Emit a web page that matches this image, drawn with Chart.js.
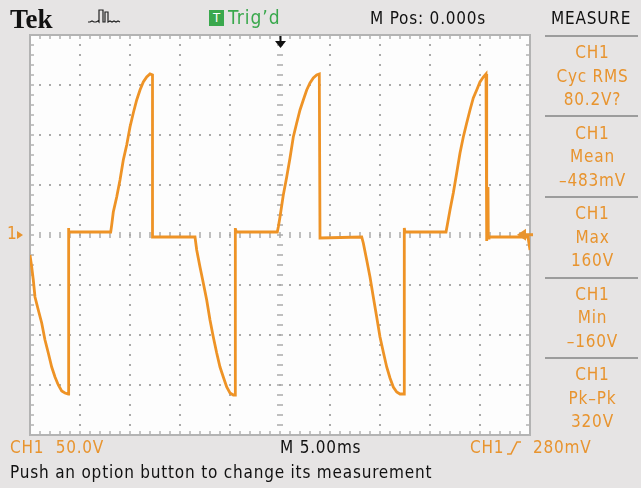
<!DOCTYPE html>
<html>
<head>
<meta charset="utf-8">
<script src="https://cdn.jsdelivr.net/npm/chart.js@4"></script>
<style>
  body { margin: 0; background: #e6e4e4; }
  #scope { position: relative; width: 641px; height: 488px; overflow: hidden; background: #e6e4e4; }
  #scope canvas { position: absolute; left: 0; top: 0; }
  .lbl { position: absolute; height: 22px; line-height: 22px; white-space: nowrap;
         font-family: "DejaVu Sans Condensed", "DejaVu Sans", sans-serif; font-stretch: condensed;
         font-size: 17px; letter-spacing: 0.8px; color: #111; }
  .orange { color: #e8942f; }
  .green { color: #39a84c; font-size: 19px; letter-spacing: 1px; }
  .tek { font-family: "Liberation Serif", "DejaVu Serif", serif; font-weight: bold; font-size: 27px; font-stretch: normal; letter-spacing: 0; }
  .menu { left: 545px; width: 95px; text-align: center; }
  .sep { position: absolute; left: 545px; width: 93px; height: 2px; background: #9c9c9c; }
  .tbox { position: absolute; left: 209px; top: 10px; width: 15px; height: 16px; background: #3aa84d;
          color: #fff; font: 13px "DejaVu Sans Condensed", "DejaVu Sans", sans-serif; line-height: 16px; text-align: center; }
</style>
</head>
<body>
<div id="scope">
  <canvas id="chart" width="641" height="488"></canvas>

  <div class="lbl tek" style="left:10px; top:8px;">Tek</div>
  <svg style="position:absolute; left:88px; top:7px;" width="34" height="17">
    <polyline points="0,15 2,15 4,14 6,15 8,15 10,14 11,15 11,3 15,3 15,15 17,15 17,5 20,5 20,15 22,14 24,15 26,14 28,15 30,14 32,15" fill="none" stroke="#222" stroke-width="1.2"/>
  </svg>
  <div class="tbox">T</div>
  <div class="lbl green" style="left:228px; top:6px;">Trig’d</div>
  <div class="lbl" style="left:370px; top:7px;">M Pos: 0.000s</div>
  <div class="lbl" style="left:551px; top:7px;">MEASURE</div>

  <div id="menu"></div>

  <div class="lbl orange" style="left:10px; top:436px;">CH1&nbsp;&nbsp;50.0V</div>
  <div class="lbl" style="left:280px; top:436px;">M 5.00ms</div>
  <div class="lbl orange" style="left:470px; top:436px;">CH1</div>
  <svg style="position:absolute; left:505px; top:440px;" width="18" height="16">
    <polyline points="2,14 6,14 12,2 16,2" fill="none" stroke="#e8942f" stroke-width="1.6"/>
  </svg>
  <div class="lbl orange" style="left:533px; top:436px;">280mV</div>
  <div class="lbl" style="left:10px; top:461px;">Push an option button to change its measurement</div>
</div>

<script>
// trace: time in ms, level in volts (5 ms/div, 50 V/div)
const timeMs = [
  -25, -24.83, -24.67, -24.5, -24.17, -23.83, -23.5, -23.17, -22.83, -22.5, -22.17, -21.83, -21.5, -21.17, -21.17, -21.1,
  -16.93, -16.83, -16.67, -16.33, -16.0, -15.67, -15.33, -15.0, -14.67, -14.33, -14.0, -13.67, -13.33, -13.0, -12.75, -12.75,
  -8.5, -8.33, -8.0, -7.67, -7.33, -7.0, -6.67, -6.33, -6.0, -5.67, -5.33, -5.0, -4.67, -4.5, -4.5, -4.47, -4.43, -4.35,
  -0.27, -0.17, 0, 0.33, 0.67, 1.0, 1.33, 1.67, 2.0, 2.33, 2.67, 3.0, 3.33, 3.67, 3.93, 4.0,
  8.17, 8.33, 8.67, 9.0, 9.33, 9.67, 10.0, 10.33, 10.67, 11.0, 11.33, 11.67, 12.0, 12.4, 12.43, 12.5,
  16.6, 16.73, 17.0, 17.33, 17.67, 18.0, 18.33, 18.67, 19.0, 19.33, 19.67, 20.0, 20.33, 20.6, 20.67, 20.8, 20.83, 20.9,
  24.8, 25
];
const volts = [
  -20, -32, -45, -62, -75, -88, -105, -118, -132, -142, -150, -156, -158, -159, 7, 3,
  3, 10, 23, 38, 55, 75, 90, 108, 122, 135, 145, 153, 158, 161, 160, -2,
  -2, -15, -32, -48, -65, -85, -102, -118, -132, -142, -152, -158, -160, -160, 7, -48, 6, 3,
  3, 8, 18, 40, 58, 77, 98, 112, 125, 135, 145, 152, 157, 160, 161, -3,
  -2, -8, -25, -42, -62, -82, -102, -117, -132, -143, -152, -157, -159, -159, 7, 3,
  3, 10, 25, 42, 62, 82, 98, 112, 125, 137, 145, 153, 158, 161, -6, 48, -3, -2,
  -2, -15
];

const measureNames = ["Cyc RMS", "Mean", "Max", "Min", "Pk\u2013Pk"];
const measureValues = ["80.2V?", "\u2013483mV", "160V", "\u2013160V", "320V"];
const triggerLevelV = 0.28;

const menu = document.getElementById("menu");
const sepY = [35, 115, 196, 277, 357];
sepY.forEach(y => {
  const d = document.createElement("div");
  d.className = "sep";
  d.style.top = y + "px";
  menu.appendChild(d);
});
measureNames.forEach((name, i) => {
  const top0 = 41 + i * 80.5;
  ["CH1", name, measureValues[i]].forEach((txt, j) => {
    const d = document.createElement("div");
    d.className = "lbl menu orange";
    d.style.top = (top0 + j * 23.5) + "px";
    d.textContent = txt;
    menu.appendChild(d);
  });
});

const graticule = {
  id: "graticule",
  beforeDatasetsDraw(chart) {
    const { ctx, chartArea: a, scales: { x, y } } = chart;
    ctx.save();
    ctx.fillStyle = "#fdfdfd";
    ctx.fillRect(a.left, a.top, a.width, a.height);

    // dotted divisions
    ctx.fillStyle = "#ababab";
    for (let t = -20; t <= 20; t += 5) {
      if (t === 0) continue;
      const px = x.getPixelForValue(t);
      for (let v = -190; v <= 190; v += 10) ctx.fillRect(px - 1, y.getPixelForValue(v) - 1, 2, 2);
    }
    for (let v = -150; v <= 150; v += 50) {
      if (v === 0) continue;
      const py = y.getPixelForValue(v);
      for (let t = -24; t <= 24; t++) ctx.fillRect(x.getPixelForValue(t) - 1, py - 1, 2, 2);
    }

    // centre cross with minor ticks
    const x0 = x.getPixelForValue(0), y0 = y.getPixelForValue(0);
    for (let t = -24; t <= 24; t++) {
      const px = x.getPixelForValue(t);
      ctx.fillRect(px - 0.75, y0 - 3, 1.5, 6);
    }
    for (let v = -190; v <= 190; v += 10) {
      const py = y.getPixelForValue(v);
      ctx.fillRect(x0 - 3, py - 0.75, 6, 1.5);
    }

    // border with inward ticks
    ctx.fillStyle = "#b3b3b3";
    for (let t = -24; t <= 24; t++) {
      const px = x.getPixelForValue(t);
      ctx.fillRect(px - 0.75, a.top, 1.5, 4);
      ctx.fillRect(px - 0.75, a.bottom - 4, 1.5, 4);
    }
    for (let v = -190; v <= 190; v += 10) {
      const py = y.getPixelForValue(v);
      ctx.fillRect(a.left, py - 0.75, 4, 1.5);
      ctx.fillRect(a.right - 4, py - 0.75, 4, 1.5);
    }
    ctx.strokeStyle = "#b3b3b3";
    ctx.lineWidth = 2;
    ctx.strokeRect(a.left, a.top, a.width, a.height);
    ctx.restore();
  },
  afterDatasetsDraw(chart) {
    const { ctx, chartArea: a, scales: { x, y } } = chart;
    const x0 = x.getPixelForValue(0), y0 = y.getPixelForValue(0);
    ctx.save();
    // trigger position marker
    ctx.fillStyle = "#111";
    ctx.fillRect(x0 - 0.5, a.top + 1, 2, 8);
    ctx.beginPath();
    ctx.moveTo(x0 - 5, a.top + 6);
    ctx.lineTo(x0 + 6, a.top + 6);
    ctx.lineTo(x0 + 0.5, a.top + 13);
    ctx.closePath();
    ctx.fill();

    // channel 1 ground marker
    ctx.fillStyle = "#e8942f";
    ctx.font = "17px 'DejaVu Sans Condensed', 'DejaVu Sans', sans-serif";
    ctx.textBaseline = "middle";
    ctx.fillText("1", 7, y0);
    ctx.beginPath();
    ctx.moveTo(17, y0 - 4);
    ctx.lineTo(23, y0);
    ctx.lineTo(17, y0 + 4);
    ctx.closePath();
    ctx.fill();

    // trigger level marker
    const yt = y.getPixelForValue(triggerLevelV);
    ctx.beginPath();
    ctx.moveTo(a.right - 13, yt);
    ctx.lineTo(a.right - 4, yt - 6);
    ctx.lineTo(a.right - 4, yt + 6);
    ctx.closePath();
    ctx.fill();
    ctx.fillRect(a.right - 5, yt - 1.5, 8, 3);
    ctx.restore();
  }
};

new Chart(document.getElementById("chart"), {
  type: "line",
  data: {
    datasets: [{
      data: timeMs.map((t, i) => ({ x: t, y: volts[i] })),
      borderColor: "#ee9326",
      borderWidth: 2.8,
      pointRadius: 0,
      tension: 0,
      fill: false
    }]
  },
  options: {
    responsive: false,
    animation: false,
    layout: { padding: { left: 30, top: 35, right: 111, bottom: 53 } },
    plugins: { legend: { display: false }, tooltip: { enabled: false } },
    scales: {
      x: { type: "linear", min: -25, max: 25, display: false },
      y: { type: "linear", min: -200, max: 200, display: false }
    }
  },
  plugins: [graticule]
});
</script>
</body>
</html>
